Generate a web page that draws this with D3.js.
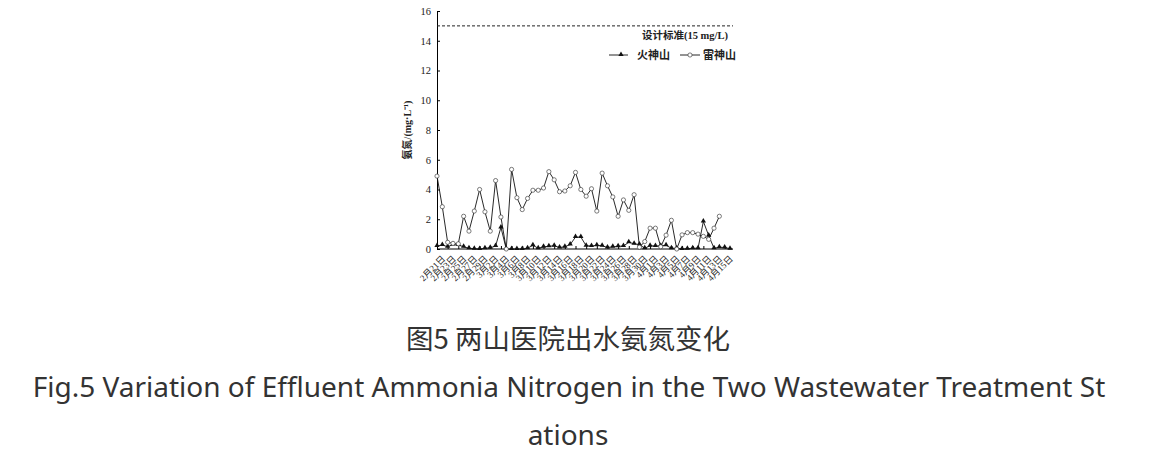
<!DOCTYPE html>
<html><head><meta charset="utf-8">
<script src="https://cdn.jsdelivr.net/npm/d3@7"></script>
<style>
html,body{margin:0;padding:0;background:#fff;}
svg{display:block;}
</style>
</head><body>
<svg id="c" width="1149" height="460"></svg>
<script>
const dates = ["2月21日","2月22日","2月23日","2月24日","2月25日","2月26日","2月27日","2月28日","2月29日",
"3月1日","3月2日","3月3日","3月4日","3月5日","3月6日","3月7日","3月8日","3月9日","3月10日","3月11日","3月12日","3月13日","3月14日","3月15日","3月16日","3月17日","3月18日","3月19日","3月20日","3月21日","3月22日","3月23日","3月24日","3月25日","3月26日","3月27日","3月28日","3月29日","3月30日","3月31日",
"4月1日","4月2日","4月3日","4月4日","4月5日","4月6日","4月7日","4月8日","4月9日","4月10日","4月11日","4月12日","4月13日","4月14日","4月15日","4月16日"];
const huoshenshan = [0.2,0.27,0.15,0.3,0.27,0.15,0.05,0.02,0.0,0.05,0.08,0.2,1.45,0,0,0,0,0.05,0.25,0.05,0.15,0.18,0.22,0.1,0.15,0.3,0.8,0.8,0.22,0.2,0.25,0.22,0.1,0.15,0.18,0.2,0.45,0.35,0.3,0.05,0.22,0.2,0.22,0.25,0.05,0.05,0.0,0.02,0.05,0.05,1.85,0.9,0.05,0.12,0.1,0.02];
const leishenshan = [4.9,2.84,0.45,0.38,0.35,2.2,1.2,2.55,4.0,2.5,1.2,4.6,2.15,0,5.35,3.45,2.65,3.4,3.95,3.95,4.1,5.2,4.65,3.85,3.9,4.25,5.15,4.0,3.55,4.05,2.55,5.1,4.25,3.5,2.2,3.3,2.6,3.65,0.12,0.5,1.4,1.4,0.15,0.93,1.93,0,0.95,1.1,1.1,1.0,0.85,0.65,1.4,2.2];
const yTicks = [0,2,4,6,8,10,12,14,16];
const standardValue = 15;
const standardLabel = "设计标准(15 mg/L)";
const seriesNames = ["火神山","雷神山"];
const yTitle = "氨氮/(mg·L⁻¹)";
const caption1 = "图5 两山医院出水氨氮变化";
const caption2a = "Fig.5 Variation of Effluent Ammonia Nitrogen in the Two Wastewater Treatment St";
const caption2b = "ations";

const svg = d3.select("#c");
const serif = "'Liberation Serif','Noto Sans CJK SC',serif";
const x = d3.scalePoint().domain(dates).range([437, 730]);
const y = d3.scaleLinear().domain([0,16]).range([249, 11]);
const xEnd = 733;

// y axis
const ya = svg.append("g").attr("transform","translate(437,0)")
  .call(d3.axisLeft(y).tickValues(yTicks).tickSizeInner(-3).tickSizeOuter(0).tickPadding(6));
ya.select(".domain").attr("stroke","#000").attr("stroke-width",1);
ya.selectAll(".tick line").attr("stroke","#000");
ya.selectAll("text").attr("font-family",serif).attr("font-size",10.5).attr("fill","#222");

// x axis
const labelDates = dates.filter((d,i)=>i%2===0);
const xa = svg.append("g").attr("transform","translate(0,249)")
  .call(d3.axisBottom(x).tickValues(labelDates).tickSizeInner(-3).tickSizeOuter(0).tickPadding(3));
xa.select(".domain").attr("d", `M437,0H${xEnd}`).attr("stroke","#000").attr("stroke-width",1);
xa.selectAll(".tick line").attr("stroke","#000");
xa.selectAll("text").attr("font-family",serif).attr("font-size",9).attr("fill","#222")
  .attr("text-anchor","end").attr("dy","0.35em")
  .attr("transform","translate(4,6) rotate(-45)");

// standard line
svg.append("line").attr("x1",437).attr("x2",xEnd).attr("y1",y(standardValue)).attr("y2",y(standardValue))
  .attr("stroke","#222").attr("stroke-width",1).attr("stroke-dasharray","3,2");
svg.append("text").attr("x",728).attr("y",y(standardValue)+13).attr("text-anchor","end")
  .attr("font-family",serif).attr("font-size",10.5).attr("font-weight","bold").attr("fill","#222").text(standardLabel);

// y title
svg.append("text").attr("transform","translate(411,130) rotate(-90)").attr("text-anchor","middle")
  .attr("font-family",serif).attr("font-size",10).attr("font-weight","bold").attr("fill","#222").text(yTitle);

// lines
const line = d3.line().x((d,i)=>x(dates[i])).y(d=>y(d));
svg.append("path").datum(leishenshan).attr("d",line).attr("fill","none").attr("stroke","#111").attr("stroke-width",0.9);
svg.append("path").datum(huoshenshan).attr("d",line).attr("fill","none").attr("stroke","#111").attr("stroke-width",0.9);

const tri = d3.symbol().type(d3.symbolTriangle).size(12);
svg.append("g").selectAll("path").data(huoshenshan).join("path")
  .attr("d",tri).attr("transform",(d,i)=>`translate(${x(dates[i])},${y(d)-0.5})`).attr("fill","#111");
svg.append("g").selectAll("circle").data(leishenshan).join("circle")
  .attr("cx",(d,i)=>x(dates[i])).attr("cy",d=>y(d)).attr("r",2.1)
  .attr("fill","#fff").attr("stroke","#444").attr("stroke-width",0.7);

// legend
const lg = svg.append("g");
lg.append("line").attr("x1",609).attr("x2",628).attr("y1",55).attr("y2",55).attr("stroke","#111").attr("stroke-width",0.9);
lg.append("path").attr("d",tri).attr("transform","translate(621,54.5)").attr("fill","#111");
lg.append("text").attr("x",637).attr("y",59).attr("font-family",serif).attr("font-size",11).attr("font-weight","bold").attr("fill","#222").text(seriesNames[0]);
lg.append("line").attr("x1",680).attr("x2",700).attr("y1",55).attr("y2",55).attr("stroke","#111").attr("stroke-width",0.9);
lg.append("circle").attr("cx",690).attr("cy",55).attr("r",2.1).attr("fill","#fff").attr("stroke","#444").attr("stroke-width",0.7);
lg.append("text").attr("x",703).attr("y",59).attr("font-family",serif).attr("font-size",11).attr("font-weight","bold").attr("fill","#222").text(seriesNames[1]);

// captions
svg.append("text").attr("x",568).attr("y",349).attr("text-anchor","middle")
  .attr("font-family","'Noto Sans CJK SC',sans-serif").attr("font-size",27.5).attr("fill","#333").text(caption1);
svg.append("text").attr("x",569).attr("y",397).attr("text-anchor","middle")
  .attr("font-family","'Noto Sans','Open Sans',sans-serif").attr("font-size",28).attr("fill","#333").text(caption2a);
svg.append("text").attr("x",568).attr("y",445).attr("text-anchor","middle")
  .attr("font-family","'Noto Sans','Open Sans',sans-serif").attr("font-size",28).attr("fill","#333").text(caption2b);
</script>
</body></html>
